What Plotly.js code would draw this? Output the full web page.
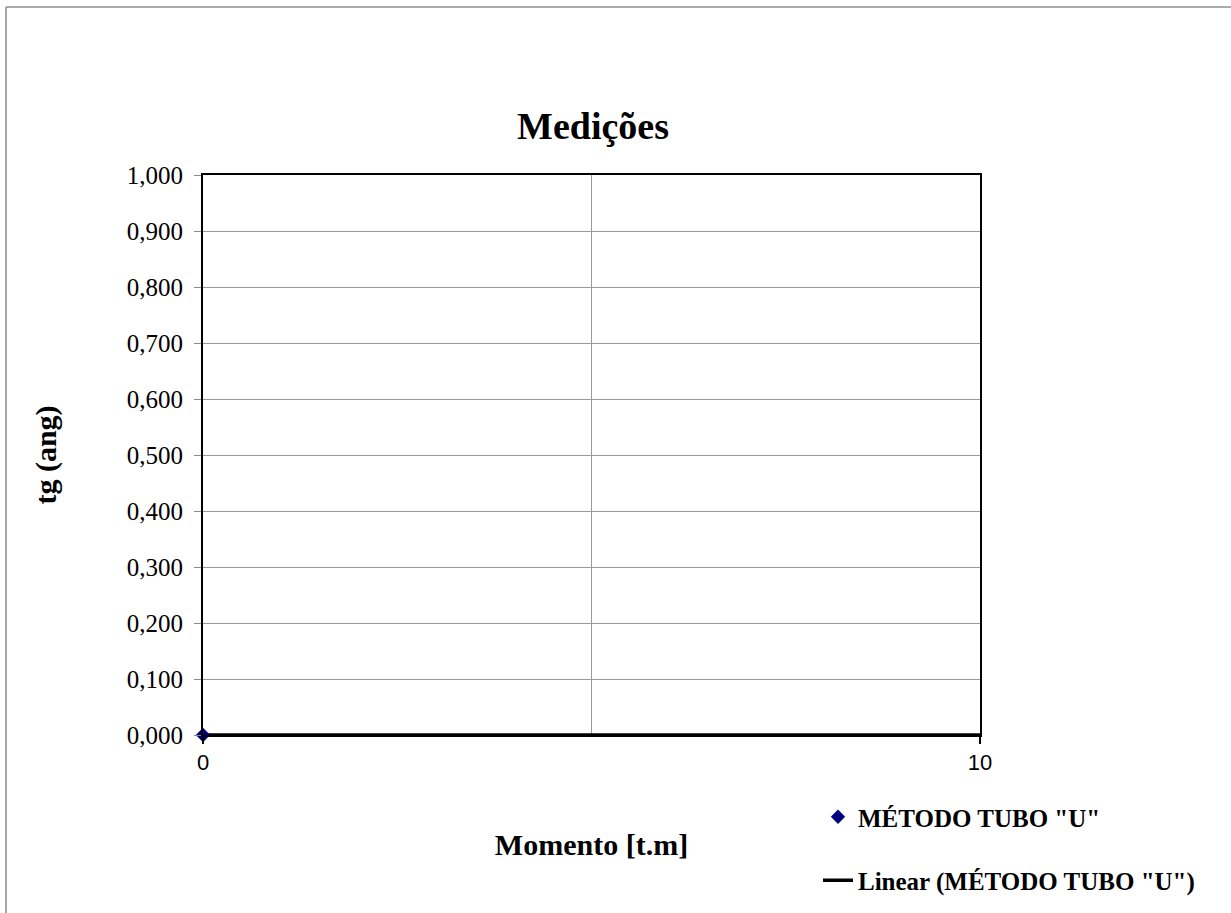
<!DOCTYPE html>
<html>
<head>
<meta charset="utf-8">
<script src="https://cdn.plot.ly/plotly-3.0.1.min.js"></script>
<style>html,body{margin:0;padding:0;background:#fff;}#chart{width:1231px;height:913px;}</style>
</head>
<body>
<div id="chart"></div>
<script>
// Data
const momento = [0];
const tgAng = [0];
const trendX = [0, 10];
const trendY = [0, 0];
const seriesName = 'MÉTODO TUBO "U"';
const trendName = 'Linear (MÉTODO TUBO "U")';
const yTickVals = [0, 0.1, 0.2, 0.3, 0.4, 0.5, 0.6, 0.7, 0.8, 0.9, 1.0];
const yTickText = ['0,000','0,100','0,200','0,300','0,400','0,500','0,600','0,700','0,800','0,900','1,000'];
const xTickVals = [0, 10];
const xTickText = ['0', '10'];

const W = 1231, H = 913;
const L = 203, R = 251, T = 175, B = 178;
const pw = W - L - R, ph = H - T - B;
const px = v => (v - L) / pw;
const py = v => (H - B - v) / ph;

const traces = [
  {
    x: trendX, y: trendY, type: 'scatter', mode: 'lines', name: '<b>' + trendName + '</b>',
    line: {color: '#000000', width: 3.5}, legendgroup: 'b', legendrank: 2,
    cliponaxis: false, hoverinfo: 'skip'
  },
  {
    x: momento, y: tgAng, type: 'scatter', mode: 'markers', name: '<b>' + seriesName + '</b>',
    marker: {symbol: 'diamond', color: '#000080', size: 11}, legendgroup: 'a', legendrank: 1,
    cliponaxis: false
  }
];

const layout = {
  width: W, height: H,
  margin: {l: L, r: R, t: T, b: B, autoexpand: false},
  paper_bgcolor: '#ffffff', plot_bgcolor: '#ffffff',
  font: {family: '"Liberation Serif", "Times New Roman", serif', color: '#000'},
  title: {
    text: '<b>Medições</b>',
    font: {family: '"Liberation Serif", "Times New Roman", serif', size: 38, color: '#000'},
    x: px(593), xref: 'paper', xanchor: 'center',
    y: 1 - 126 / H, yref: 'container', yanchor: 'middle'
  },
  xaxis: {
    range: [0, 10], tickvals: xTickVals, ticktext: xTickText,
    tickfont: {family: '"Liberation Sans", Arial, sans-serif', size: 22, color: '#000'},
    ticks: 'outside', ticklen: 7, tickwidth: 1.5, tickcolor: '#000',
    showgrid: false, zeroline: false,
    minor: {dtick: 5, tick0: 0, showgrid: true, gridcolor: '#999999', gridwidth: 1, ticks: ''},
    showline: true, mirror: true, linecolor: '#000', linewidth: 2,
    title: {text: '<b>Momento [t.m]</b>', font: {size: 30, color: '#000'}, standoff: 60},
    fixedrange: true
  },
  yaxis: {
    range: [0, 1], tickvals: yTickVals, ticktext: yTickText,
    tickfont: {size: 25, color: '#000'}, ticklabelstandoff: 6,
    ticks: 'outside', ticklen: 7, tickwidth: 1, tickcolor: '#888888',
    showgrid: true, gridcolor: '#999999', gridwidth: 1, zeroline: false,
    showline: true, mirror: true, linecolor: '#000', linewidth: 2,
    title: {text: '<b>tg (ang)</b>', font: {size: 30, color: '#000'}, standoff: 61},
    fixedrange: true
  },
  showlegend: true,
  legend: {
    x: px(818), y: py(794), xanchor: 'left', yanchor: 'top',
    font: {size: 25, color: '#000'}, tracegroupgap: 28,
    bgcolor: 'rgba(0,0,0,0)', itemwidth: 30, traceorder: 'grouped'
  },
  shapes: [
    {type: 'line', xref: 'paper', yref: 'paper', x0: px(6), x1: px(1231), y0: py(7), y1: py(7),
     line: {color: '#aaaaaa', width: 2}},
    {type: 'line', xref: 'paper', yref: 'paper', x0: px(6), x1: px(6), y0: py(7), y1: py(913),
     line: {color: '#888888', width: 1.5}}
  ]
};

Plotly.newPlot('chart', traces, layout, {displayModeBar: false, staticPlot: true});
</script>
</body>
</html>
